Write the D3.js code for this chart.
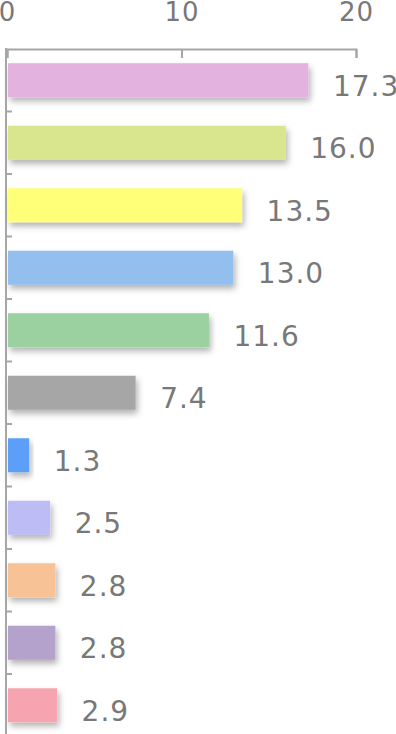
<!DOCTYPE html>
<html>
<head>
<meta charset="utf-8">
<script src="https://cdn.jsdelivr.net/npm/d3@7"></script>
<style>
  html, body { margin: 0; padding: 0; background: #fff; overflow: hidden; }
  svg { display: block; }
</style>
</head>
<body>
<svg id="chart" width="396" height="734"></svg>
<script>
const categories = ["c1","c2","c3","c4","c5","c6","c7","c8","c9","c10","c11"];
const values = [17.3, 16.0, 13.5, 13.0, 11.6, 7.4, 1.3, 2.5, 2.8, 2.8, 2.9];
const colors = ["#e3b2df","#d9e68e","#ffff78","#93bfee","#9bd0a0","#a6a6a6","#5c9ff9","#bdbcf4","#f7c295","#b4a1cc","#f5a4b0"];
const xTicks = [0, 10, 20];

const data = categories.map((c, i) => ({ c, v: values[i], col: colors[i] }));

const svg = d3.select("#chart");
const axisY = 49;
const x = d3.scaleLinear().domain([0, 20]).range([7, 356]);
const pIn = 0.456;
const y = d3.scaleBand().domain(categories).range([axisY, axisY + 62.5 * categories.length])
  .paddingInner(pIn).paddingOuter(pIn / 2);

const defs = svg.append("defs");
const f = defs.append("filter").attr("id", "sh").attr("x", "-10%").attr("y", "-30%").attr("width", "130%").attr("height", "180%");
f.append("feDropShadow").attr("dx", 2).attr("dy", 4).attr("stdDeviation", 3)
  .attr("flood-color", "#000").attr("flood-opacity", 0.3);

// bars
svg.append("g").selectAll("rect").data(data).join("rect")
  .attr("x", x(0) + 1)
  .attr("y", d => y(d.c))
  .attr("width", d => x(d.v) - x(0) - 1.5)
  .attr("height", y.bandwidth())
  .attr("fill", d => d.col)
  .attr("filter", "url(#sh)");

// top axis
const gx = svg.append("g").attr("transform", `translate(0,${axisY})`)
  .call(d3.axisTop(x).tickValues(xTicks).tickSizeInner(-9).tickSizeOuter(-9).tickPadding(28));
gx.select(".domain").attr("stroke", "#a6a6a6").attr("stroke-width", 2);
gx.selectAll(".tick line").attr("stroke", "#a6a6a6").attr("stroke-width", 2);
gx.selectAll(".tick text").attr("fill", "#787878")
  .style("font-family", "'DejaVu Sans', Verdana, sans-serif").style("font-size", "26px")
  .style("letter-spacing", "1px");

// left axis line
const yEnd = y.range()[1];
svg.append("line").attr("x1", x(0) - 1).attr("x2", x(0) - 1).attr("y1", axisY - 1).attr("y2", yEnd)
  .attr("stroke", "#a6a6a6").attr("stroke-width", 2);

// category boundary ticks
const gap = y.step() - y.bandwidth();
svg.append("g").selectAll("line").data(categories.slice(1)).join("line")
  .attr("x1", x(0) - 1).attr("x2", x(0) + 5)
  .attr("y1", d => y(d) - gap / 2).attr("y2", d => y(d) - gap / 2)
  .attr("stroke", "#a6a6a6").attr("stroke-width", 2);

// value labels
svg.append("g").selectAll("text").data(data).join("text")
  .attr("x", d => x(d.v) + 24)
  .attr("y", d => y(d.c) + y.bandwidth() / 2 + 15.5)
  .attr("fill", "#787878")
  .style("font-family", "'DejaVu Sans', Verdana, sans-serif").style("font-size", "28px")
  .style("letter-spacing", "1px")
  .text(d => d.v.toFixed(1));
</script>
</body>
</html>
